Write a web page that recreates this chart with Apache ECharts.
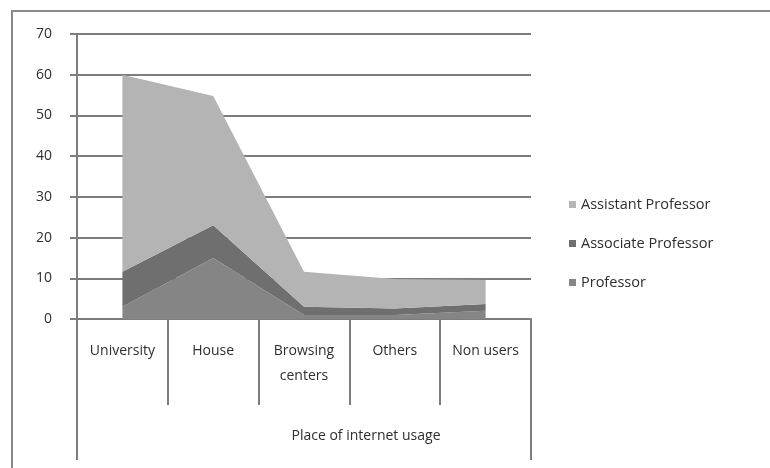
<!DOCTYPE html>
<html>
<head>
<meta charset="utf-8">
<script src="https://cdn.jsdelivr.net/npm/echarts@6/dist/echarts.min.js"></script>
<style>
  html, body { margin: 0; padding: 0; background: #fff; }
  #main { width: 770px; height: 468px; }
</style>
</head>
<body>
<div id="main"></div>
<script>
// place of internet usage
const categories = ['University', 'House', 'Browsing\ncenters', 'Others', 'Non users'];
const professor = [3, 15, 1, 1, 2];
const associate = [8.6, 8, 2, 1.6, 1.7];
const assistant = [48.4, 31.8, 8.6, 7.2, 5.9];
const yTicks = { min: 0, max: 70, interval: 10 };

const font = 'Open Sans, Liberation Sans, sans-serif';
const grey = '#7d7d7d';
const textColor = '#2e2e2e';

const chart = echarts.init(document.getElementById('main'));

function areaSeries(name, data, color) {
    return {
        name: name,
        type: 'line',
        stack: 'total',
        data: data,
        symbol: 'none',
        lineStyle: { width: 0 },
        areaStyle: { color: color, opacity: 1 },
        itemStyle: { color: color },
        silent: true
    };
}

chart.setOption({
    animation: false,
    backgroundColor: '#fff',
    graphic: [{
        type: 'rect',
        shape: { x: 12, y: 11, width: 780, height: 480 },
        style: { fill: 'none', stroke: '#888', lineWidth: 2 }
    }],
    grid: { left: 77, right: 239, top: 34, bottom: 149 },
    legend: {
        orient: 'vertical',
        left: 564,
        top: 192,
        itemWidth: 7,
        itemHeight: 7,
        itemGap: 24,
        icon: 'rect',
        data: ['Assistant Professor', 'Associate Professor', 'Professor'],
        textStyle: { fontFamily: font, fontSize: 14.5, color: textColor }
    },
    xAxis: [{
        type: 'category',
        data: categories,
        boundaryGap: true,
        axisLine: { show: true, lineStyle: { color: grey, width: 2 } },
        axisTick: { show: true, length: 86, alignWithLabel: false, interval: 0, lineStyle: { color: grey, width: 2 } },
        axisLabel: { fontFamily: font, fontSize: 14, color: textColor, margin: 20, lineHeight: 25, interval: 0 },
        name: 'Place of internet usage',
        nameLocation: 'middle',
        nameGap: 110,
        nameTextStyle: { fontFamily: font, fontSize: 14, color: textColor, padding: [0, 0, 0, 124] }
    }, {
        type: 'category',
        position: 'bottom',
        data: [''],
        boundaryGap: true,
        axisLine: { show: false },
        axisTick: { show: true, length: 141, interval: 0, lineStyle: { color: grey, width: 2 } },
        axisLabel: { show: false }
    }],
    yAxis: {
        type: 'value',
        min: yTicks.min,
        max: yTicks.max,
        interval: yTicks.interval,
        axisLine: { show: true, lineStyle: { color: grey, width: 2 } },
        axisTick: { show: true, length: 7, lineStyle: { color: grey, width: 2 } },
        axisLabel: { fontFamily: font, fontSize: 14, color: textColor, margin: 25 },
        splitLine: { show: true, lineStyle: { color: grey, width: 2 } }
    },
    series: [
        areaSeries('Professor', professor, '#858585'),
        areaSeries('Associate Professor', associate, '#6f6f6f'),
        areaSeries('Assistant Professor', assistant, '#b4b4b4')
    ]
});
</script>
</body>
</html>
